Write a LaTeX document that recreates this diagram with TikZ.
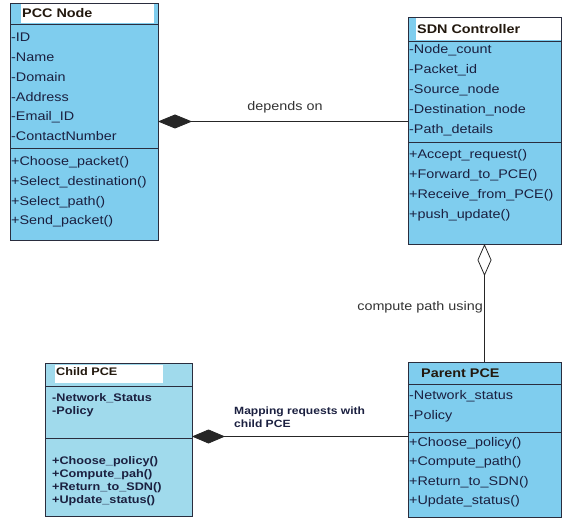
\documentclass[tikz,border=0pt]{standalone}
\usepackage{fontspec}
\setmainfont{Liberation Sans}[FakeStretch=1.15]
\usetikzlibrary{arrows.meta}
\definecolor{boxblue}{HTML}{7FCDEE}
\definecolor{childblue}{HTML}{A0DAEC}
\definecolor{bordercol}{HTML}{2A2D3E}
\definecolor{txtcol}{HTML}{1B2040}
\definecolor{titlecol}{HTML}{22180E}
\definecolor{lblcol}{HTML}{333333}
\begin{document}
\begin{tikzpicture}[x=1pt,y=-1pt,
  classbox/.style={draw=bordercol, fill=boxblue, line width=0.8pt, anchor=north west, inner sep=0pt, outer sep=0pt},
  childbox/.style={classbox, fill=childblue},
  sepline/.style={draw=bordercol, line width=0.8pt},
  attr/.style={anchor=west, inner sep=0pt, text=txtcol, font=\fontsize{12.5}{14}\selectfont},
  cattr/.style={anchor=west, inner sep=0pt, text=txtcol, font=\fontsize{11}{12}\selectfont\bfseries},
  ttl/.style={anchor=west, inner sep=0pt, text=titlecol, font=\fontsize{12.5}{14}\selectfont\bfseries},
  cttl/.style={anchor=west, inner sep=0pt, text=titlecol, font=\fontsize{11}{13}\selectfont\bfseries},
  conn/.style={draw=black!85, line width=0.8pt},
  lbl/.style={inner sep=0pt, text=lblcol, font=\fontsize{12.5}{14}\selectfont},
  blbl/.style={inner sep=0pt, text=txtcol, font=\fontsize{10.5}{13}\selectfont\bfseries, align=left}
]
\useasboundingbox (0,0) rectangle (562,518);

% ---------- PCC Node ----------
\node[classbox, minimum width=148pt, minimum height=237pt] (pcc) at (10,3) {};
\fill[white] (21,4) rectangle (154,23);
\draw[sepline] (10,24) -- (158,24);
\draw[sepline] (10,148) -- (158,148);
\node[ttl] (pcct) at (22,13.5) {PCC Node};
\node[attr] (pa1) at (11,37) {-ID};
\node[attr] (pa2) at (11,57) {-Name};
\node[attr] (pa3) at (11,77) {-Domain};
\node[attr] (pa4) at (11,97) {-Address};
\node[attr] (pa5) at (11,117) {-Email\_ID};
\node[attr] (pa6) at (11,136) {-ContactNumber};
\node[attr] (pm1) at (11,162) {+Choose\_packet()};
\node[attr] (pm2) at (11,182) {+Select\_destination()};
\node[attr] (pm3) at (11,202) {+Select\_path()};
\node[attr] (pm4) at (11,221) {+Send\_packet()};

% ---------- SDN Controller ----------
\node[classbox, minimum width=153pt, minimum height=227pt] (sdn) at (408,17) {};
\fill[white] (416,18) rectangle (561,40);
\draw[sepline] (408,41) -- (561,41);
\draw[sepline] (408,142) -- (561,142);
\node[ttl] (sdnt) at (417,29) {SDN Controller};
\node[attr] (sa1) at (409,50) {-Node\_count};
\node[attr] (sa2) at (409,70) {-Packet\_id};
\node[attr] (sa3) at (409,90) {-Source\_node};
\node[attr] (sa4) at (409,110) {-Destination\_node};
\node[attr] (sa5) at (409,130) {-Path\_details};
\node[attr] (sm1) at (409,155) {+Accept\_request()};
\node[attr] (sm2) at (409,175) {+Forward\_to\_PCE()};
\node[attr] (sm3) at (409,195) {+Receive\_from\_PCE()};
\node[attr] (sm4) at (409,215) {+push\_update()};

% ---------- Parent PCE ----------
\node[classbox, minimum width=153pt, minimum height=155pt] (parent) at (408,362) {};
\draw[sepline] (408,384) -- (561,384);
\draw[sepline] (408,432) -- (561,432);
\node[ttl] (part) at (421,373) {Parent PCE};
\node[attr] (ra1) at (409,396) {-Network\_status};
\node[attr] (ra2) at (409,416) {-Policy};
\node[attr] (rm1) at (409,443) {+Choose\_policy()};
\node[attr] (rm2) at (409,462) {+Compute\_path()};
\node[attr] (rm3) at (409,482) {+Return\_to\_SDN()};
\node[attr] (rm4) at (409,501) {+Update\_status()};

% ---------- Child PCE ----------
\node[childbox, minimum width=147pt, minimum height=153pt] (child) at (45,363) {};
\fill[white] (55,365) rectangle (163,383);
\draw[sepline] (45,386) -- (192,386);
\draw[sepline] (45,438) -- (192,438);
\node[cttl] (chit) at (56,372) {Child PCE};
\node[cattr] (ca1) at (52,398) {-Network\_Status};
\node[cattr] (ca2) at (52,412) {-Policy};
\node[cattr] (cm1) at (52,462) {+Choose\_policy()};
\node[cattr] (cm2) at (52,475) {+Compute\_pah()};
\node[cattr] (cm3) at (52,488) {+Return\_to\_SDN()};
\node[cattr] (cm4) at (52,501) {+Update\_status()};

% ---------- Connectors ----------
\draw[conn, {Diamond[length=34pt,width=14pt]}-] (pcc.east) -- (pcc.east -| sdn.west);
\node[lbl] (l1) at (285,107) {depends on};

\draw[conn, {Diamond[open,length=32pt,width=14pt]}-] (sdn.south) -- (parent.north);
\node[lbl, anchor=east] (l2) at (483,307) {compute path using};

\draw[conn, {Diamond[length=33pt,width=14pt]}-] ([yshift=3pt]child.east) -- ([yshift=3pt]child.east -| parent.west);
\node[blbl, anchor=north west] (l3) at (234,407) {Mapping requests with\\child PCE};
\end{tikzpicture}
\end{document}
